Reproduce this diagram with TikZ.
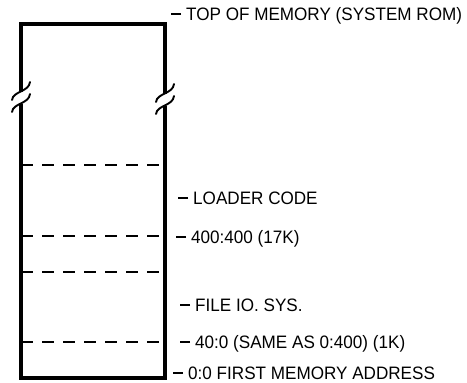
\documentclass[tikz,border=0pt]{standalone}
\usepackage{fontspec}
\setmainfont{Liberation Sans}[FakeStretch=0.95]
\usepackage{tikz}
\usetikzlibrary{positioning}

\begin{document}
\begin{tikzpicture}[
    x=1pt, y=-1pt,
    wall/.style={line width=3.8pt, line cap=butt, line join=miter},
    partition/.style={line width=1.6pt, dash pattern=on 12pt off 9pt},
    breakmark/.style={line width=1.9pt, line cap=round},
    lbl/.style={anchor=west, inner sep=0pt, text height=13pt, text depth=0pt,
                font=\fontsize{18}{21}\selectfont},
    tick/.style={line width=1.6pt},
]
    \useasboundingbox (0,0) rectangle (467,383);

    % memory column, broken near the top
    \draw[wall] (21,92) -- (21,24) -- (165,24) -- (165,94);
    \draw[wall] (21,104) -- (21,378) -- (165,378) -- (165,106);
    \foreach \x/\d in {21/0,165/2} {
        \draw[breakmark] (\x-9,100+\d) .. controls (\x-8,91+\d) and (\x+8,92+\d) .. (\x+9,82+\d);
        \draw[breakmark] (\x-9,112+\d) .. controls (\x-8,103+\d) and (\x+8,104+\d) .. (\x+9,94+\d);
    }

    % region boundaries
    \foreach \y in {165,236,272,342}
        \draw[partition] (21,\y) -- (165,\y);

    % labels
    \node[lbl] (top) at (186,14) {TOP OF MEMORY (SYSTEM ROM)};
    \node[lbl] (loader) at (193,198) {LOADER CODE};
    \node[lbl] (seg) at (191,237) {400:400 (17K)};
    \node[lbl] (iosys) at (195,305) {FILE IO. SYS.};
    \node[lbl] (low) at (195,342) {40:0 (SAME AS 0:400) (1K)};
    \node[lbl] (base) at (188,373) {0:0 FIRST MEMORY ADDRESS};

    \foreach \n in {top,loader,seg,iosys,low,base}
        \draw[tick] ([xshift=-5pt]\n.west) -- ++(-10,0);
\end{tikzpicture}
\end{document}
